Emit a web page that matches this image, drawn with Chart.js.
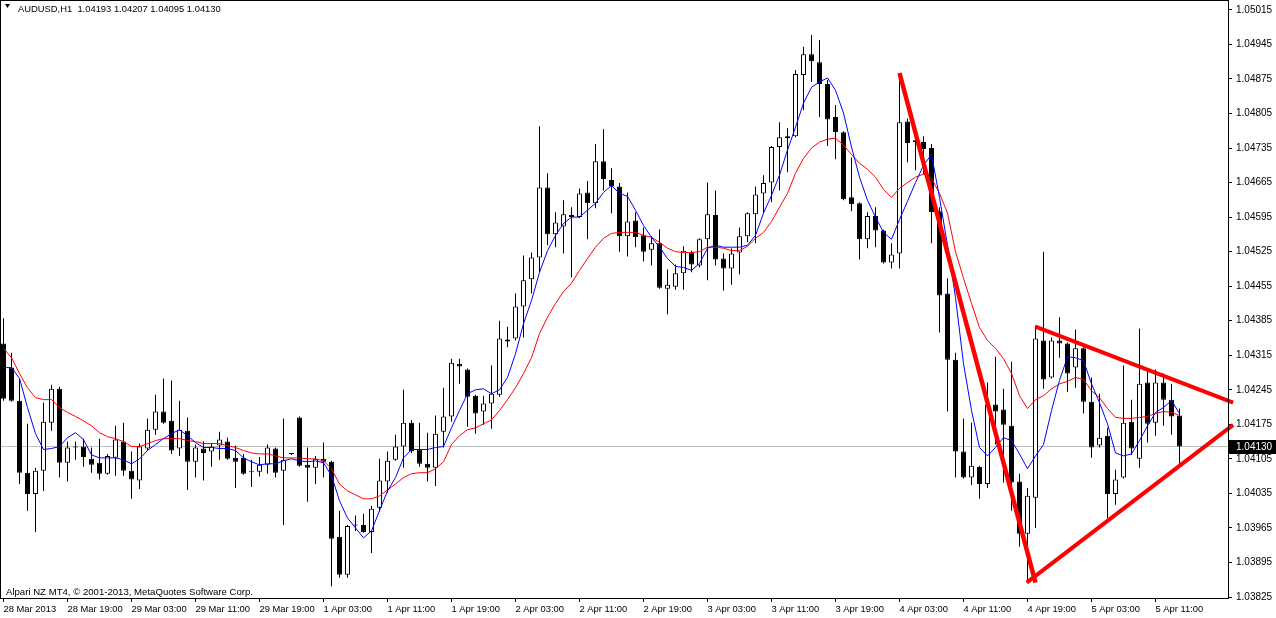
<!DOCTYPE html>
<html>
<head>
<meta charset="utf-8">
<script src="https://cdn.jsdelivr.net/npm/chart.js@4.4.0/dist/chart.umd.min.js"></script>
<style>
html, body { margin: 0; padding: 0; background: #fff; }
#wrap { width: 1276px; height: 618px; position: relative; }
</style>
</head>
<body>
<div id="wrap"><canvas id="mt4"></canvas></div>
<script>
// AUDUSD H1 candles, 28 Mar 11:00 .. 5 Apr 14:00
symbol = 'AUDUSD';
period = 'H1';

open = [1.04339,1.04290,1.04223,1.04077,1.04034,1.04081,1.04178,1.04247,1.04097,1.04128,
1.04130,1.04105,1.04097,1.04075,1.04107,1.04140,1.04081,1.04061,1.04126,1.04164,
1.04201,1.04182,1.04126,1.04162,1.04099,1.04126,1.04120,1.04132,1.04140,1.04107,
1.04107,1.04079,1.04079,1.04093,1.04126,1.04081,1.04115,1.04189,1.04093,1.04087,
1.04105,1.04099,1.03947,1.03870,1.03971,1.03971,1.03957,1.04006,1.04059,1.04103,
1.04130,1.04178,1.04124,1.04095,1.04087,1.04160,1.04191,1.04298,1.04286,1.04233,
1.04201,1.04217,1.04235,1.04347,1.04349,1.04414,1.04469,1.04513,1.04655,1.04560,
1.04576,1.04599,1.04595,1.04645,1.04623,1.04708,1.04670,1.04657,1.04556,1.04588,
1.04558,1.04529,1.04542,1.04450,1.04454,1.04481,1.04523,1.04497,1.04550,1.04599,
1.04511,1.04491,1.04523,1.04556,1.04601,1.04643,1.04665,1.04737,1.04759,1.04759,
1.04883,1.04925,1.04909,1.04865,1.04798,1.04767,1.04635,1.04623,1.04550,1.04597,
1.04568,1.04503,1.04521,1.04789,1.04751,1.04747,1.04735,1.04607,1.04440,1.04306,
1.04120,1.04067,1.04089,1.04054,1.04215,1.04205,1.04172,1.04059,1.03953,1.04026,
1.04345,1.04270,1.04345,1.04339,1.04290,1.04329,1.04221,1.04132,1.04152,1.04034,
1.04067,1.04180,1.04105,1.04260,1.04178,1.04260,1.04225,1.04193];

high = [1.04390,1.04320,1.04268,1.04176,1.04087,1.04219,1.04255,1.04251,1.04140,1.04140,
1.04146,1.04128,1.04146,1.04115,1.04172,1.04178,1.04120,1.04136,1.04187,1.04235,
1.04268,1.04264,1.04223,1.04189,1.04134,1.04140,1.04136,1.04160,1.04148,1.04132,
1.04115,1.04103,1.04109,1.04134,1.04128,1.04187,1.04117,1.04191,1.04128,1.04111,
1.04138,1.04101,1.04000,1.03971,1.03990,1.03994,1.04010,1.04105,1.04120,1.04154,
1.04245,1.04184,1.04178,1.04158,1.04193,1.04249,1.04308,1.04308,1.04288,1.04235,
1.04233,1.04294,1.04385,1.04373,1.04440,1.04517,1.04523,1.04779,1.04684,1.04605,
1.04629,1.04615,1.04653,1.04668,1.04743,1.04773,1.04694,1.04664,1.04645,1.04605,
1.04574,1.04556,1.04570,1.04489,1.04499,1.04536,1.04527,1.04552,1.04665,1.04649,
1.04521,1.04532,1.04574,1.04605,1.04657,1.04680,1.04739,1.04787,1.04775,1.04893,
1.04940,1.04964,1.04954,1.04873,1.04822,1.04769,1.04716,1.04625,1.04605,1.04615,
1.04570,1.04542,1.04887,1.04795,1.04775,1.04759,1.04743,1.04615,1.04471,1.04320,
1.04187,1.04178,1.04091,1.04260,1.04312,1.04247,1.04302,1.04075,1.04046,1.04375,
1.04525,1.04351,1.04392,1.04341,1.04367,1.04331,1.04270,1.04237,1.04168,1.04083,
1.04294,1.04225,1.04369,1.04282,1.04286,1.04278,1.04257,1.04207];

low = [1.04223,1.04221,1.04054,1.04000,1.03957,1.04040,1.04162,1.04067,1.04059,1.04103,
1.04089,1.04077,1.04063,1.04073,1.04071,1.04071,1.04024,1.04044,1.04122,1.04154,
1.04176,1.04115,1.04111,1.04042,1.04067,1.04061,1.04089,1.04103,1.04103,1.04046,
1.04073,1.04048,1.04069,1.04075,1.04067,1.03971,1.04113,1.04089,1.04018,1.04054,
1.04067,1.03847,1.03864,1.03864,1.03959,1.03955,1.03914,1.03998,1.04036,1.04101,
1.04087,1.04117,1.04089,1.04059,1.04050,1.04128,1.04180,1.04257,1.04170,1.04156,
1.04174,1.04166,1.04231,1.04331,1.04345,1.04351,1.04440,1.04483,1.04538,1.04534,
1.04521,1.04473,1.04593,1.04550,1.04613,1.04649,1.04603,1.04525,1.04515,1.04534,
1.04505,1.04497,1.04450,1.04398,1.04448,1.04448,1.04483,1.04493,1.04467,1.04497,
1.04446,1.04458,1.04479,1.04544,1.04542,1.04605,1.04625,1.04649,1.04686,1.04757,
1.04812,1.04869,1.04798,1.04739,1.04712,1.04629,1.04607,1.04509,1.04532,1.04534,
1.04501,1.04491,1.04491,1.04706,1.04690,1.04682,1.04542,1.04361,1.04201,1.04067,
1.04065,1.04052,1.04024,1.04046,1.04134,1.04057,1.04000,1.03927,1.03856,1.03965,
1.04247,1.04268,1.04310,1.04241,1.04249,1.04197,1.04107,1.04128,1.03985,1.04012,
1.04065,1.04113,1.04087,1.04138,1.04152,1.04172,1.04154,1.04095];

close = [1.04227,1.04223,1.04077,1.04034,1.04081,1.04180,1.04247,1.04097,1.04128,1.04128,
1.04109,1.04093,1.04075,1.04111,1.04144,1.04081,1.04063,1.04130,1.04164,1.04201,
1.04178,1.04122,1.04164,1.04099,1.04128,1.04117,1.04130,1.04144,1.04105,1.04099,
1.04075,1.04078,1.04093,1.04128,1.04077,1.04103,1.04115,1.04091,1.04087,1.04105,
1.04099,1.03943,1.03870,1.03969,1.03970,1.03957,1.04004,1.04061,1.04101,1.04130,
1.04178,1.04120,1.04095,1.04087,1.04156,1.04191,1.04300,1.04292,1.04231,1.04197,
1.04217,1.04237,1.04349,1.04343,1.04414,1.04467,1.04513,1.04655,1.04560,1.04584,
1.04601,1.04595,1.04643,1.04623,1.04708,1.04672,1.04657,1.04556,1.04586,1.04554,
1.04525,1.04542,1.04452,1.04458,1.04481,1.04527,1.04499,1.04550,1.04601,1.04509,
1.04491,1.04521,1.04556,1.04603,1.04641,1.04664,1.04737,1.04757,1.04755,1.04885,
1.04925,1.04911,1.04865,1.04793,1.04767,1.04631,1.04621,1.04550,1.04597,1.04568,
1.04503,1.04519,1.04787,1.04745,1.04747,1.04733,1.04605,1.04436,1.04306,1.04120,
1.04067,1.04091,1.04054,1.04215,1.04201,1.04174,1.04057,1.03953,1.04030,1.04349,
1.04266,1.04345,1.04339,1.04278,1.04329,1.04221,1.04128,1.04148,1.04034,1.04063,
1.04178,1.04126,1.04257,1.04176,1.04260,1.04225,1.04191,1.04130];

// the two moving averages as drawn on the chart (blue fast, red slow)
maFast = [1.04290,1.04290,1.04268,1.04209,1.04156,1.04124,1.04126,1.04130,1.04148,1.04158,
1.04144,1.04113,1.04107,1.04107,1.04107,1.04103,1.04095,1.04105,1.04122,1.04134,
1.04146,1.04156,1.04164,1.04152,1.04138,1.04128,1.04128,1.04126,1.04126,1.04122,
1.04107,1.04099,1.04093,1.04095,1.04095,1.04101,1.04105,1.04101,1.04099,1.04101,
1.04097,1.04071,1.04020,1.03985,1.03965,1.03945,1.03959,1.04000,1.04040,1.04067,
1.04107,1.04124,1.04124,1.04124,1.04128,1.04130,1.04168,1.04203,1.04237,1.04245,
1.04247,1.04237,1.04245,1.04270,1.04318,1.04379,1.04426,1.04483,1.04527,1.04558,
1.04582,1.04595,1.04595,1.04609,1.04623,1.04645,1.04659,1.04643,1.04637,1.04609,
1.04578,1.04554,1.04534,1.04511,1.04495,1.04493,1.04487,1.04501,1.04532,1.04538,
1.04534,1.04534,1.04534,1.04538,1.04558,1.04603,1.04639,1.04680,1.04731,1.04777,
1.04826,1.04858,1.04869,1.04877,1.04852,1.04806,1.04737,1.04676,1.04629,1.04595,
1.04564,1.04550,1.04590,1.04627,1.04665,1.04700,1.04722,1.04635,1.04538,1.04432,
1.04298,1.04203,1.04128,1.04111,1.04128,1.04148,1.04142,1.04115,1.04085,1.04111,
1.04134,1.04203,1.04264,1.04312,1.04310,1.04304,1.04257,1.04219,1.04176,1.04117,
1.04111,1.04115,1.04142,1.04172,1.04199,1.04209,1.04223,1.04197];

maSlow = [1.04329,1.04310,1.04278,1.04249,1.04229,1.04225,1.04225,1.04209,1.04199,1.04191,
1.04182,1.04172,1.04158,1.04150,1.04146,1.04140,1.04130,1.04130,1.04136,1.04142,
1.04146,1.04146,1.04146,1.04142,1.04140,1.04136,1.04136,1.04136,1.04132,1.04128,
1.04122,1.04117,1.04115,1.04115,1.04111,1.04107,1.04107,1.04107,1.04105,1.04105,
1.04101,1.04085,1.04054,1.04040,1.04032,1.04024,1.04024,1.04030,1.04042,1.04054,
1.04067,1.04075,1.04077,1.04077,1.04085,1.04099,1.04134,1.04152,1.04164,1.04168,
1.04176,1.04184,1.04203,1.04225,1.04249,1.04278,1.04310,1.04359,1.04392,1.04420,
1.04444,1.04461,1.04487,1.04511,1.04534,1.04552,1.04562,1.04564,1.04564,1.04564,
1.04558,1.04554,1.04544,1.04532,1.04525,1.04523,1.04523,1.04525,1.04534,1.04534,
1.04532,1.04527,1.04527,1.04536,1.04552,1.04564,1.04586,1.04615,1.04643,1.04684,
1.04714,1.04735,1.04747,1.04753,1.04755,1.04741,1.04722,1.04704,1.04692,1.04676,
1.04651,1.04635,1.04653,1.04665,1.04676,1.04682,1.04674,1.04643,1.04603,1.04525,
1.04471,1.04420,1.04371,1.04345,1.04329,1.04308,1.04278,1.04233,1.04207,1.04225,
1.04233,1.04247,1.04257,1.04262,1.04270,1.04266,1.04243,1.04229,1.04207,1.04189,
1.04187,1.04187,1.04189,1.04191,1.04197,1.04201,1.04199,1.04193];

// hand drawn trend lines: [bar index, price] at both ends
trend1X = [112, 129];     trend1Y = [1.04887, 1.03854];
trend2X = [127.9, 153.7]; trend2Y = [1.03854, 1.04174];
trend3X = [129, 153.7];   trend3Y = [1.04373, 1.04219];

// axis labels
timeTickIdx = [0, 8, 16, 24, 32, 40, 48, 56, 64, 72, 80, 88, 96, 104, 112, 120, 128, 136, 144];
timeTickText = ['28 Mar 2013', '28 Mar 19:00', '29 Mar 03:00', '29 Mar 11:00', '29 Mar 19:00',
  '1 Apr 03:00', '1 Apr 11:00', '1 Apr 19:00', '2 Apr 03:00', '2 Apr 11:00', '2 Apr 19:00',
  '3 Apr 03:00', '3 Apr 11:00', '3 Apr 19:00', '4 Apr 03:00', '4 Apr 11:00', '4 Apr 19:00',
  '5 Apr 03:00', '5 Apr 11:00'];
priceTicks = [1.03825, 1.03895, 1.03965, 1.04035, 1.04105, 1.04175, 1.04245, 1.04315, 1.04385,
  1.04455, 1.04525, 1.04595, 1.04665, 1.04735, 1.04805, 1.04875, 1.04945, 1.05015];

copyrightText = 'Alpari NZ MT4, \u00a9 2001-2013, MetaQuotes Software Corp.';

FONT = 'Liberation Sans, Arial, sans-serif';
Chart.defaults.font.family = FONT;
Chart.defaults.font.size = 10;
Chart.defaults.color = '#000';

last = close.length - 1;
bidPrice = close[last];

wicks = close.map((c, i) => ({x: i, y: [low[i], high[i]]}));
bodies = close.map((c, i) => ({x: i, y: [open[i], c]}));
bodyFill = close.map((c, i) => c >= open[i] ? '#ffffff' : '#000000');

function pts(xs, ys) { return xs.map((x, i) => ({x: x, y: ys[i]})); }

lineBase = {type: 'line', pointRadius: 0, tension: 0, fill: false, borderJoinStyle: 'miter'};
trendClip = {left: 2, top: 2, right: 8, bottom: 2};

frameAndText = {
  id: 'frameAndText',
  afterDraw(chart) {
    const ctx = chart.ctx, a = chart.chartArea;
    ctx.save();
    ctx.strokeStyle = '#000';
    ctx.lineWidth = 1;
    ctx.strokeRect(a.left + 0.5, a.top + 0.5, a.right - a.left, a.bottom - a.top);

    // header
    ctx.fillStyle = '#000';
    ctx.beginPath();
    ctx.moveTo(5, 4); ctx.lineTo(10, 4); ctx.lineTo(7.5, 8); ctx.closePath();
    ctx.fill();
    ctx.textBaseline = 'alphabetic';
    ctx.textAlign = 'left';
    const hdr = symbol + ',' + period + '  ' +
      [open[last], high[last], low[last], close[last]].map(v => v.toFixed(5)).join(' ');
    ctx.font = '9.4px ' + FONT;
    ctx.fillText(hdr, 18, 12);
    ctx.font = '9.6px ' + FONT;
    ctx.fillText(copyrightText, 6, 595);

    // bid price box
    const py = Math.round(chart.scales.y.getPixelForValue(bidPrice));
    ctx.fillStyle = '#000';
    ctx.fillRect(a.right + 1, py - 7, chart.width - a.right - 1, 14);
    ctx.fillStyle = '#fff';
    ctx.textBaseline = 'middle';
    ctx.font = '10px ' + FONT;
    ctx.fillText(bidPrice.toFixed(5), a.right + 8, py + 0.5);
    ctx.restore();
  }
};

new Chart(document.getElementById('mt4'), {
  type: 'bar',
  data: {
    datasets: [
      Object.assign({}, lineBase, {data: pts(trend1X, trend1Y), borderColor: '#ff0000', borderWidth: 4.5, order: 0, clip: trendClip}),
      Object.assign({}, lineBase, {data: pts(trend2X, trend2Y), borderColor: '#ff0000', borderWidth: 4, order: 0, clip: trendClip}),
      Object.assign({}, lineBase, {data: pts(trend3X, trend3Y), borderColor: '#ff0000', borderWidth: 4, order: 0, clip: trendClip}),
      Object.assign({}, lineBase, {data: maFast.map((v, i) => ({x: i, y: v})), borderColor: '#0000ff', borderWidth: 1, order: 1}),
      Object.assign({}, lineBase, {data: maSlow.map((v, i) => ({x: i, y: v})), borderColor: '#ff0000', borderWidth: 1, order: 2}),
      {
        type: 'bar', data: bodies, backgroundColor: bodyFill, borderColor: '#000', borderWidth: 1,
        borderSkipped: false, barThickness: 5, maxBarThickness: 5, minBarLength: 1,
        grouped: false, inflateAmount: 0, order: 3
      },
      {
        type: 'bar', data: wicks, backgroundColor: '#000', borderWidth: 0,
        barThickness: 1, maxBarThickness: 1, grouped: false, inflateAmount: 0, order: 4
      },
      Object.assign({}, lineBase, {data: [{x: -0.4375, y: bidPrice}, {x: 153.0625, y: bidPrice}], borderColor: '#c0c0c0', borderWidth: 1, order: 5})
    ]
  },
  options: {
    responsive: true,
    maintainAspectRatio: false,
    animation: false,
    events: [],
    layout: {padding: 0},
    plugins: {legend: {display: false}, tooltip: {enabled: false}, title: {display: false}},
    scales: {
      x: {
        type: 'linear', min: -0.4375, max: 153.0625, offset: false,
        afterBuildTicks: s => { s.ticks = timeTickIdx.map(v => ({value: v})); },
        afterFit: s => { s.height = 20; s.paddingLeft = 0; s.paddingRight = 0; },
        ticks: {
          autoSkip: false, maxRotation: 0, minRotation: 0, align: 'start', padding: 2,
          color: '#000', font: {size: 9.4},
          callback: (v, i) => timeTickText[i]
        },
        grid: {drawOnChartArea: false, drawTicks: true, tickLength: 4, color: '#000', offset: false},
        border: {display: false}
      },
      y: {
        type: 'linear', position: 'right', min: 1.03823, max: 1.05035,
        afterBuildTicks: s => { s.ticks = priceTicks.map(v => ({value: v})); },
        afterFit: s => { s.width = 48; s.paddingTop = 0; s.paddingBottom = 0; },
        ticks: {padding: 4, color: '#000', font: {size: 10}, callback: v => v.toFixed(5)},
        grid: {drawOnChartArea: false, drawTicks: true, tickLength: 4, color: '#000'},
        border: {display: false}
      }
    }
  },
  plugins: [frameAndText]
});
</script>
</body>
</html>
